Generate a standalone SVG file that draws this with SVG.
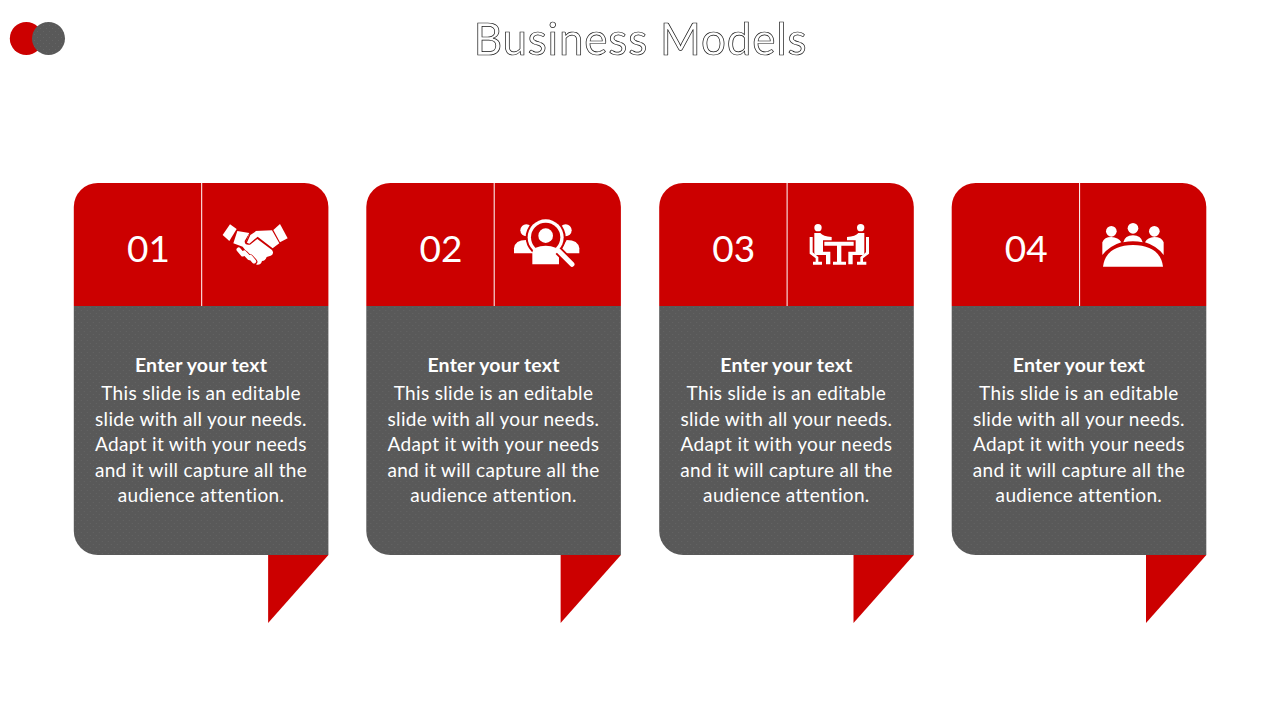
<svg xmlns="http://www.w3.org/2000/svg" width="1280" height="720" viewBox="0 0 1280 720">
<style>
.r{fill:#CC0000}
.t{fill:#fff;font-family:Lato,"Liberation Sans",sans-serif;text-anchor:middle}
.n{font-size:37px}
.h{font-size:19.500px;font-weight:700;letter-spacing:.2px}
.b{font-size:19px;letter-spacing:.33px}
.d{stroke:#fff;stroke-width:1;fill:none}
.w{fill:#fff}
.rs{fill:none;stroke:#CC0000;stroke-width:4}
.ws{fill:none;stroke:#fff;stroke-linecap:round}
</style>
<defs>
<filter id="gray" x="0" y="0" width="1" height="1"><feOffset dx="0" dy="0"/></filter>
<pattern id="dots" width="6" height="6" patternUnits="userSpaceOnUse">
<rect width="6" height="6" fill="#595959"/>
<rect x="1" y="1" width="1" height="1" fill="#646464"/>
<rect x="4" y="4" width="1" height="1" fill="#646464"/>
</pattern>
<g id="card">
<path class="r" d="M0 123V24A24 24 0 0 1 24 0H230.600A24 24 0 0 1 254.600 24V123Z"/>
<path fill="url(#dots)" d="M0 123H254.600V372H24A24 24 0 0 1 0 348Z"/>
<path class="r" d="M194.300 372H254.600L194.300 440Z"/>
<path class="d" d="M127.900 0V123"/>
<text class="t h" x="127.200" y="189">Enter your text</text>
<text class="t b" x="127.200" y="217">This slide is an editable</text>
<text class="t b" x="127.200" y="243">slide with all your needs.</text>
<text class="t b" x="127.200" y="268">Adapt it with your needs</text>
<text class="t b" x="127.200" y="294">and it will capture all the</text>
<text class="t b" x="127.200" y="319">audience attention.</text>
</g>
</defs>
<g id="logo">
<circle class="r" cx="26.300" cy="38.500" r="16.500"/>
<circle fill="url(#dots)" cx="48.500" cy="38.500" r="16.500"/>
</g>
<g id="title" filter="url(#gray)">
<text x="640.500" y="55" text-anchor="middle" font-family="Lato,'Liberation Sans',sans-serif" font-size="44" letter-spacing=".8" fill="#fff" stroke="#111" stroke-width="0.700">Business Models</text>
</g>
<g id="card1" transform="translate(73.800 183)">
<use href="#card"/>
<text class="t n" x="74.600" y="79">01</text>
<g transform="translate(126.200 22) scale(.3333)">
<path class="w" d="M90 58L110 72L88 108L68 90Z"/>
<path class="w" d="M240 57L263 100L240 112L220 75Z"/>
<path class="w" d="M112 78L148 84L134 108Q134 122 150 119L172 102L216 135Q224 146 212 152L200 156Q196 168 186 168Q184 180 170 179L128 125L100 115Z"/>
<path class="w" d="M165 78L216 76L238 115L218 130L173 95L148 116L138 112L146 90Z"/>
<path class="rs" d="M138 114L150 88L166 78"/>
<path fill="none" stroke="#CC0000" stroke-width="20" stroke-linecap="round" d="M118 136L130 148M134 146L148 160M151 158L162 170"/>
<path class="ws" stroke-width="13" d="M116 134L128 148M133 143L148 159M151 156L162 169"/>
</g>
</g>
<g id="card2" transform="translate(366.300 183)">
<use href="#card"/>
<text class="t n" x="74.600" y="79">02</text>
<g transform="translate(133.700 22) scale(.3333)">
<circle class="w" cx="79" cy="76" r="18"/>
<circle class="w" cx="197" cy="76" r="18"/>
<path class="w" d="M42 145V130Q45 105 78 105L100 145Z"/>
<path class="w" d="M238 145V130Q235 105 200 105L178 145Z"/>
<circle class="r" cx="137" cy="97" r="60"/>
<circle class="w" cx="137" cy="97" r="54"/>
<circle class="r" cx="137" cy="97" r="44"/>
<circle class="w" cx="137" cy="92" r="22"/>
<path class="r" d="M90 150L186 150L200 182H90Z"/>
<path class="w" d="M97 178V142Q102 122 137 122Q172 122 177 142V178Z"/>
<path fill="none" stroke="#CC0000" stroke-width="26" d="M176 138L214 176"/>
<path class="ws" stroke-width="15" d="M176 138L216 178"/>
</g>
</g>
<g id="card3" transform="translate(659.200 183)">
<use href="#card"/>
<text class="t n" x="74.600" y="79">03</text>
<g transform="translate(135.800 22) scale(.3333)">
<circle class="w" cx="69" cy="68" r="11"/>
<circle class="w" cx="197" cy="68" r="11"/>
<path class="w" d="M58 84H76Q84 94 110 96V106H84V140H106V178H93V150H62Q58 150 58 140Z"/>
<path class="w" d="M208 84H190Q182 94 156 96V106H182V140H160V178H173V150H204Q208 150 208 140Z"/>
<path class="w" d="M44 96H53V142L70 156V170H81V179H54V170H62V160L44 146Z"/>
<path class="w" d="M222 96H213V142L196 156V170H214V179H186V170H204V160L222 146Z"/>
<path class="w" d="M88 110H176V122H139V170H153V179H114V170H126V122H88Z"/>
</g>
</g>
<g id="card4" transform="translate(951.700 183)">
<use href="#card"/>
<text class="t n" x="74.600" y="79">04</text>
<g transform="translate(133.300 22) scale(.3333)">
<circle class="w" cx="79" cy="79" r="16"/>
<circle class="w" cx="144" cy="70" r="16"/>
<circle class="w" cx="208" cy="79" r="16"/>
<path class="w" d="M52 150V112Q58 96 79 96Q100 97 109 112Q75 122 52 150Z"/>
<path class="w" d="M236 150V112Q230 96 208 96Q188 97 180 112Q214 122 236 150Z"/>
<path class="w" d="M115 112Q120 91 144 91Q168 91 173 112Q144 106 115 112Z"/>
<path class="w" d="M54 185Q62 122 144 120Q226 122 234 185Z"/>
</g>
</g>
</svg>
